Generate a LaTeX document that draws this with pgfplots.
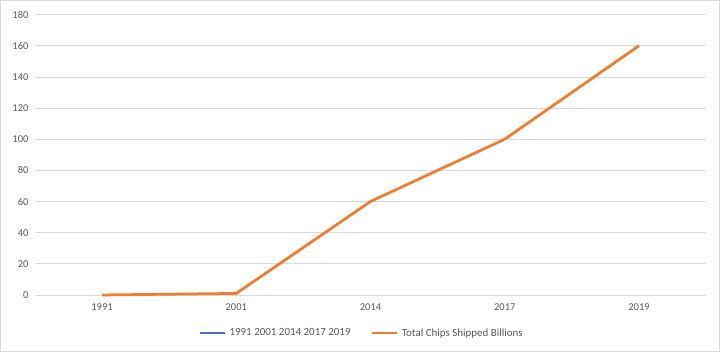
\documentclass[border=0pt]{standalone}
\usepackage{pgfplots}
\pgfplotsset{compat=1.18}
\usepackage{fontspec}
\setmainfont{Carlito}
\definecolor{gridc}{HTML}{D9D9D9}
\definecolor{txtc}{HTML}{595959}
\definecolor{orangec}{HTML}{ED7D31}
\definecolor{bluec}{HTML}{4472C4}
\begin{document}
\begin{tikzpicture}
\begin{axis}[
  at={(0,0)}, anchor=south west,
  scale only axis,
  width=671bp, height=280.3bp,
  xmin=-0.5, xmax=4.5,
  ymin=0, ymax=180,
  xtick={0,1,2,3,4},
  xticklabels={1991,2001,2014,2017,2019},
  ytick={0,20,...,180},
  ymajorgrids,
  grid style={gridc, line width=0.75bp},
  axis x line*=bottom,
  axis y line*=left,
  x axis line style={gridc, line width=0.75bp, -},
  y axis line style={draw=none},
  major tick length=0pt,
  tick label style={font=\fontsize{10.5}{12}\selectfont, text=txtc},
  /pgf/number format/assume math mode=true,
  yticklabel style={xshift=-3bp},
  xticklabel style={yshift=-5bp},
  clip=false,
  legend columns=2,
  legend style={at={(axis description cs:0.4866,-0.1356)}, anchor=center, draw=none, fill=none,
    font=\fontsize{11}{12}\selectfont, text=txtc,
    /tikz/every odd column/.append style={column sep=1bp},
    /tikz/every even column/.append style={column sep=18bp}},
  legend image code/.code={\draw[#1, line width=2.75bp] (0cm,0cm) -- (0.9cm,0cm);},
]
\addlegendimage{bluec}
\addlegendentry{1991 2001 2014 2017 2019}
\addplot[orangec, line width=2.75bp, line join=round] coordinates {(0,0) (1,1) (2,60) (3,100) (4,160)};
\addlegendentry{Total Chips Shipped Billions}
\end{axis}
\draw[gridc, line width=0.75bp] (-34.5bp,-56.5bp) rectangle (684.5bp,294.5bp);
\end{tikzpicture}
\end{document}
